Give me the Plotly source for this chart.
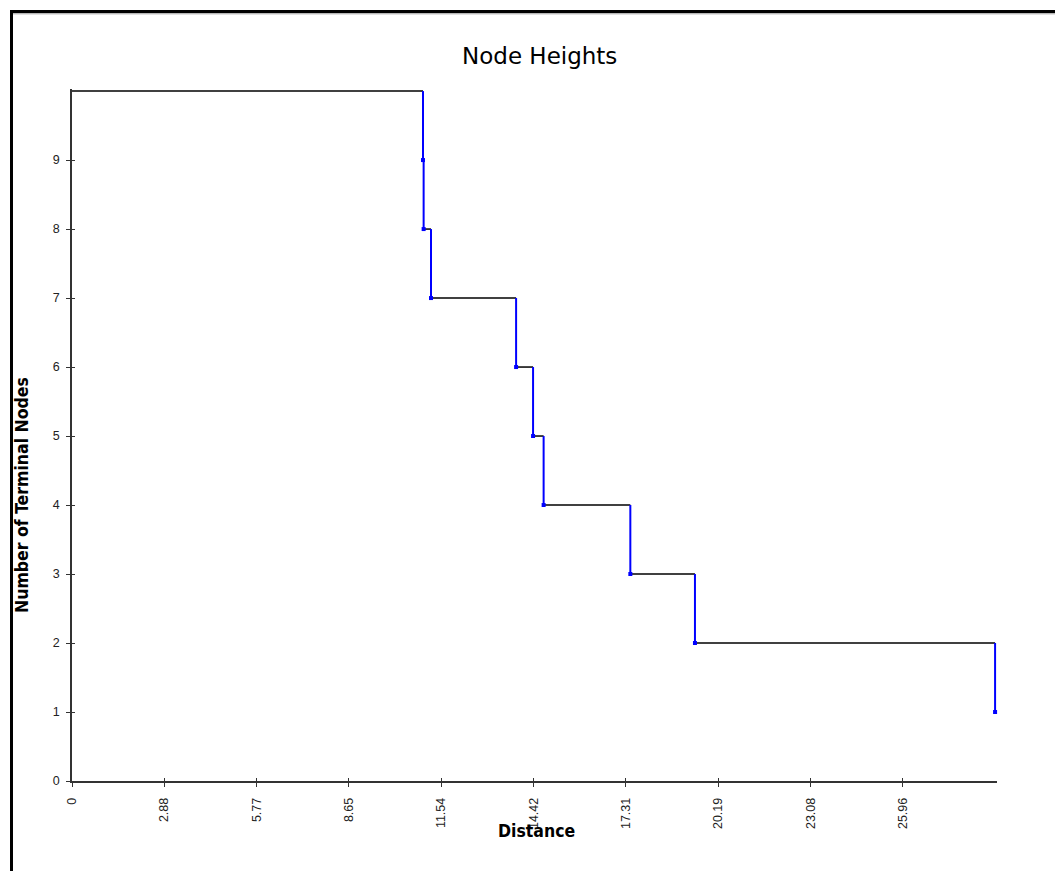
import plotly.graph_objects as go

# ---- data ----
start_count = 10
merge_distance = [10.97, 10.99, 11.22, 13.88, 14.41, 14.74, 17.45, 19.47, 28.85]
node_count = [9, 8, 7, 6, 5, 4, 3, 2, 1]
x_tick_vals = [0, 2.885, 5.77, 8.655, 11.54, 14.425, 17.31, 20.195, 23.08, 25.965]
x_tick_text = ["0", "2.88", "5.77", "8.65", "11.54", "14.42", "17.31", "20.19", "23.08", "25.96"]
y_tick_vals = [0, 1, 2, 3, 4, 5, 6, 7, 8, 9]
y_tick_text = ["0", "1", "2", "3", "4", "5", "6", "7", "8", "9"]

# page body adds an 8px margin; work in screen pixels and shift
OFF = 8
SW, SH = 1063, 871              # screen size
W, H = SW - OFF, SH - OFF       # figure size
plot_left, plot_right = 72, 997  # screen px
plot_top, plot_bottom = 89, 781
L = plot_left - OFF
R = W - (plot_right - OFF)
T = plot_top - OFF
B = H - (plot_bottom - OFF)
x_range = [0, 28.91]
y_range = [0, 10.03]

hx, hy, vx, vy = [], [], [], []
prev_x, prev_c = 0, start_count
for d, c in zip(merge_distance, node_count):
    hx += [prev_x, d, None]
    hy += [prev_c, prev_c, None]
    vx += [d, d, None]
    vy += [prev_c, c, None]
    prev_x, prev_c = d, c

fig = go.Figure()
fig.add_trace(go.Scatter(x=hx, y=hy, mode="lines", line=dict(color="black", width=1.5),
                         showlegend=False, hoverinfo="skip"))
fig.add_trace(go.Scatter(x=vx, y=vy, mode="lines", line=dict(color="#0000ff", width=2),
                         showlegend=False, hoverinfo="skip"))
fig.add_trace(go.Scatter(x=merge_distance, y=node_count, mode="markers",
                         marker=dict(color="#0000ff", symbol="square", size=4),
                         showlegend=False, cliponaxis=False))
fig.add_trace(go.Scatter(x=[], y=[], xaxis="x2", yaxis="y2", showlegend=False))

tick_font = dict(family="Liberation Sans, Arial, sans-serif", size=12.5, color="#222")
title_font = dict(family="DejaVu Sans Condensed, DejaVu Sans, sans-serif", size=17.5, color="black")

fig.update_layout(
    width=W, height=H,
    margin=dict(l=L, r=R, t=T, b=B, autoexpand=False),
    paper_bgcolor="white", plot_bgcolor="white",
    showlegend=False,
    xaxis=dict(range=x_range, tickvals=x_tick_vals, ticktext=x_tick_text, tickangle=-90,
               ticks="outside", ticklen=4, tickcolor="#333", tickwidth=1, ticklabelstandoff=6,
               showline=True, linecolor="#333", linewidth=1.5, showgrid=False, zeroline=False,
               tickfont=tick_font, automargin=False),
    yaxis=dict(range=y_range, tickvals=y_tick_vals, ticktext=y_tick_text,
               ticks="outside", ticklen=4, tickcolor="#333", tickwidth=1, ticklabelstandoff=4,
               showline=True, linecolor="#333", linewidth=1.5, showgrid=False, zeroline=False,
               tickfont=tick_font, automargin=False),
    xaxis2=dict(range=x_range, overlaying="x", anchor="y", side="bottom", tickvals=x_tick_vals,
                ticks="inside", ticklen=3, tickcolor="#333", showticklabels=False,
                showline=False, showgrid=False, zeroline=False),
    yaxis2=dict(range=y_range, overlaying="y", anchor="x", side="left", tickvals=y_tick_vals,
                ticks="inside", ticklen=3, tickcolor="#333", showticklabels=False,
                showline=False, showgrid=False, zeroline=False),
)

pw = W - L - R
ph = H - T - B


def px_x(p):
    """screen px -> paper x"""
    return (p - OFF - L) / pw


def px_y(p):
    """screen px -> paper y"""
    return (H - B - (p - OFF)) / ph


# title and axis titles
fig.add_annotation(text="Node Heights", xref="paper", yref="paper", x=px_x(539), y=px_y(56),
                   showarrow=False, xanchor="center", yanchor="middle",
                   font=dict(family="DejaVu Sans, sans-serif", size=23, color="black"))
fig.add_annotation(text="<b>Distance</b>", xref="paper", yref="paper", x=px_x(536), y=px_y(831),
                   showarrow=False, xanchor="center", yanchor="middle", font=title_font)
fig.add_annotation(text="<b>Number of Terminal Nodes</b>", xref="paper", yref="paper",
                   x=px_x(22), y=px_y(495), textangle=-90,
                   showarrow=False, xanchor="center", yanchor="middle", font=title_font)

# outer frame (top and left)
fig.add_shape(type="line", xref="paper", yref="paper", x0=px_x(10), x1=px_x(SW + 5),
              y0=px_y(11.5), y1=px_y(11.5), line=dict(color="black", width=3), layer="above")
fig.add_shape(type="line", xref="paper", yref="paper", x0=px_x(13), x1=px_x(SW + 5),
              y0=px_y(13.8), y1=px_y(13.8), line=dict(color="#999", width=1), layer="above")
fig.add_shape(type="line", xref="paper", yref="paper", x0=px_x(11.5), x1=px_x(11.5),
              y0=px_y(10), y1=px_y(SH + 5), line=dict(color="black", width=3), layer="above")

fig.write_html("out.html")
